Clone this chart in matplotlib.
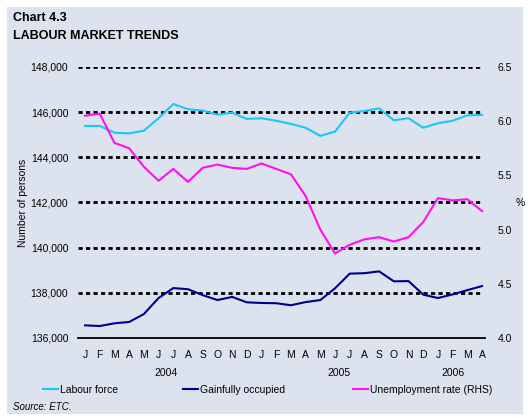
import numpy as np
import matplotlib
matplotlib.use('Agg')
from matplotlib import pyplot as plt
from matplotlib.patches import Rectangle

plt.rcParams['font.family'] = ['Liberation Sans', 'DejaVu Sans']

months = ['J', 'F', 'M', 'A', 'M', 'J', 'J', 'A', 'S', 'O', 'N', 'D',
          'J', 'F', 'M', 'A', 'M', 'J', 'J', 'A', 'S', 'O', 'N', 'D',
          'J', 'F', 'M', 'A']
years = ['2004', '2005', '2006']
year_pos = [5.5, 17.3, 25.0]

labour_force = [145390, 145390, 145090, 145060, 145180, 145730, 146360, 146130,
                146070, 145890, 145980, 145700, 145730, 145620, 145480, 145310,
                144950, 145140, 145980, 146050, 146170, 145640, 145730, 145310,
                145510, 145620, 145860, 145880]
gainfully_occupied = [136560, 136530, 136650, 136710, 137060, 137770, 138210, 138160,
                      137900, 137680, 137820, 137580, 137550, 137540, 137450, 137590,
                      137680, 138200, 138850, 138870, 138950, 138510, 138520, 137920,
                      137770, 137930, 138120, 138300]
unemployment = [6.05, 6.07, 5.80, 5.75, 5.58, 5.45, 5.56, 5.44, 5.57, 5.60, 5.57, 5.56,
                5.61, 5.56, 5.51, 5.31, 5.00, 4.78, 4.86, 4.91, 4.93, 4.89, 4.93, 5.07,
                5.29, 5.27, 5.28, 5.17]

bg = '#dce2ee'
c_lf = '#18c8f8'
c_go = '#000090'
c_ur = '#ff10f0'

fig = plt.figure(figsize=(5.28, 4.18), dpi=100)
fig.patch.set_facecolor('white')
fig.add_artist(Rectangle((7 / 528, 4 / 418), 516 / 528, 407 / 418,
                         transform=fig.transFigure, facecolor=bg, edgecolor='none', zorder=-10))

ax = fig.add_axes([78 / 528, 1 - 338 / 418, 407 / 528, 271 / 418])
ax.set_facecolor('none')
x = np.arange(len(months))

ax.set_ylim(136000, 148000)
ax.set_xlim(-0.48, 27.2)
for v in range(138000, 148001, 2000):
    ax.axhline(v, xmin=0.0, xmax=0.99, color='black', lw=2.0,
               linestyle=(0, (1.5, 1.2)), zorder=1)

lf_line, = ax.plot(x, labour_force, color=c_lf, lw=1.5, zorder=3, label='Labour force')
go_line, = ax.plot(x, gainfully_occupied, color=c_go, lw=1.5, zorder=3, label='Gainfully occupied')

ax2 = ax.twinx()
ax2.set_ylim(4.0, 6.5)
ur_line, = ax2.plot(x, unemployment, color=c_ur, lw=1.5, zorder=3, label='Unemployment rate (RHS)')

ax.set_yticks(range(136000, 148001, 2000))
ax.set_yticklabels([f'{v:,}' for v in range(136000, 148001, 2000)], fontsize=7.5)
ax2.set_yticks(np.arange(4.0, 6.51, 0.5))
ax2.set_yticklabels([f'{v:.1f}' for v in np.arange(4.0, 6.51, 0.5)], fontsize=7.5)
ax.set_xticks(x)
ax.set_xticklabels(months, fontsize=7.5)
ax.tick_params(length=0, pad=7)
ax2.tick_params(length=0, pad=9)
ax.tick_params(axis='x', pad=9)

for a in (ax, ax2):
    for s in ('top', 'left', 'right', 'bottom'):
        a.spines[s].set_visible(False)
ax.axhline(136000, color='black', lw=1.3, zorder=2, clip_on=False)

ax.set_ylabel('Number of persons', fontsize=7.5, labelpad=2)
ax2.set_ylabel('%', fontsize=7.5, rotation=0, labelpad=6, va='center')

for yl, xp in zip(years, year_pos):
    ax.text(xp, -0.13, yl, transform=ax.get_xaxis_transform(), ha='center',
            va='center', fontsize=7.5)

# legend entries placed one by one to match the uneven spacing
for h, lx in zip([lf_line, go_line, ur_line], [43, 183, 353]):
    fig.legend([h], [h.get_label()], loc='center left',
               bbox_to_anchor=(lx / 528, 1 - 390 / 418), frameon=False,
               fontsize=7.5, handlelength=1.45, handletextpad=0.2,
               borderaxespad=0, borderpad=0)

fig.text(13 / 528, 1 - 18 / 418, 'Chart 4.3', fontsize=9, fontweight='bold',
         va='center', ha='left')
fig.text(13 / 528, 1 - 36 / 418, 'LABOUR MARKET TRENDS', fontsize=9,
         fontweight='bold', va='center', ha='left')
fig.text(13 / 528, 1 - 407 / 418, 'Source: ETC.', fontsize=7, style='italic',
         va='center', ha='left')

fig.savefig('out.png', dpi=100, facecolor=fig.get_facecolor())
